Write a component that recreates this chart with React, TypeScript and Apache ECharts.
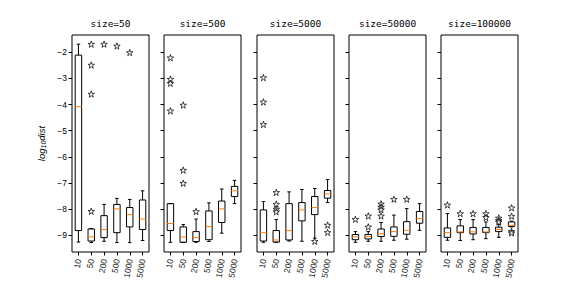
import React, { useEffect, useRef } from "react";
import * as echarts from "echarts";

const categories = ["10", "50", "200", "500", "1000", "5000"];
const sizes = ["50", "500", "5000", "50000", "100000"];
const yTicks = [-9, -8, -7, -6, -5, -4, -3, -2];

// [min, Q1, median, Q3, max] per category, one array per panel
const boxes50 = [
  [-9.26, -8.82, -4.08, -2.11, -1.69],
  [-9.28, -9.22, -9.06, -8.76, -8.74],
  [-9.23, -9.09, -8.78, -8.25, -7.82],
  [-9.28, -8.9, -7.99, -7.82, -7.59],
  [-9.28, -8.68, -8.21, -7.94, -7.63],
  [-9.2, -8.78, -8.38, -7.65, -7.3],
];
const outliers50 = [[], [-8.08, -3.6, -2.49, -1.69], [-1.69], [-1.76], [-2.01], []];

const boxes500 = [
  [-9.27, -8.82, -8.55, -7.79, -7.79],
  [-9.27, -9.27, -9.07, -8.68, -8.59],
  [-9.27, -9.24, -9.09, -8.86, -8.38],
  [-9.24, -9.17, -8.67, -8.07, -7.76],
  [-8.92, -8.51, -7.99, -7.69, -7.23],
  [-7.79, -7.52, -7.3, -7.13, -6.9],
];
const outliers500 = [[-2.21, -3.03, -3.19, -4.24], [-4.02, -6.51, -7.01], [-8.09], [], [], []];

const boxes5000 = [
  [-9.27, -9.22, -8.9, -8.03, -7.71],
  [-9.27, -9.26, -9.18, -8.82, -8.4],
  [-9.22, -9.18, -8.82, -7.79, -7.34],
  [-9.23, -8.45, -8.03, -7.75, -7.25],
  [-9.11, -8.21, -7.94, -7.52, -7.21],
  [-7.75, -7.58, -7.42, -7.29, -6.87],
];
const outliers5000 = [[-2.97, -3.9, -4.76], [-7.36, -7.81, -8.0, -8.1], [], [], [-9.23], [-8.61, -8.89]];

const boxes50000 = [
  [-9.27, -9.17, -9.06, -8.97, -8.86],
  [-9.23, -9.14, -9.05, -8.97, -8.86],
  [-9.23, -9.05, -8.94, -8.76, -8.51],
  [-9.19, -9.04, -8.86, -8.68, -8.23],
  [-9.15, -8.96, -8.81, -8.48, -7.98],
  [-8.81, -8.54, -8.36, -8.09, -7.79],
];
const outliers50000 = [[-8.39], [-8.26, -8.68], [-7.8, -7.92, -8.02, -8.26], [-7.62], [-7.62], []];

const boxes100000 = [
  [-9.19, -9.08, -8.9, -8.72, -8.17],
  [-9.2, -8.9, -8.87, -8.64, -8.4],
  [-9.17, -8.95, -8.87, -8.7, -8.4],
  [-9.13, -8.9, -8.87, -8.7, -8.49],
  [-9.08, -8.86, -8.78, -8.69, -8.59],
  [-8.68, -8.66, -8.62, -8.49, -8.46],
];
const outliers100000 = [[-7.84], [-8.17], [-8.17], [-8.17, -8.32], [-8.34, -8.43, -8.49], [-7.95, -8.27, -8.85, -8.91]];

const allBoxes = [boxes50, boxes500, boxes5000, boxes50000, boxes100000];
const allOutliers = [outliers50, outliers500, outliers5000, outliers50000, outliers100000];

const STAR =
  "path://M50,0 L62,36 L100,36 L69,58 L81,95 L50,72 L19,95 L31,58 L0,36 L38,36 Z";

export default function App() {
  const ref = useRef<HTMLDivElement>(null);
  useEffect(() => {
    if (!ref.current) return;
    const chart = echarts.init(ref.current, null, { renderer: "svg" });
    const lefts = [72, 164, 257, 349, 441];
    const W = 77;
    const top = 35;
    const H = 217;
    const grids: any[] = [];
    const xAxes: any[] = [];
    const yAxes: any[] = [];
    const series: any[] = [];
    const graphics: any[] = [];
    const font = "Liberation Sans";

    sizes.forEach((s, i) => {
      grids.push({
        left: lefts[i],
        top,
        width: W,
        height: H,
        show: true,
        borderColor: "#000",
        borderWidth: 1,
        backgroundColor: "#fff",
      });
      xAxes.push({
        type: "category",
        gridIndex: i,
        data: categories,
        boundaryGap: true,
        axisLine: { show: false },
        axisTick: { show: true, alignWithLabel: true, length: 3.5, lineStyle: { color: "#000" } },
        axisLabel: {
          rotate: 80,
          fontSize: 8.5,
          color: "#222",
          fontFamily: font,
          margin: 7,
          interval: 0,
        },
        splitLine: { show: false },
      });
      yAxes.push({
        type: "value",
        gridIndex: i,
        min: -9.64,
        max: -1.34,
        axisLine: { show: false },
        splitLine: { show: false },
        axisTick: {
          show: true,
          length: 3.5,
          lineStyle: { color: "#000" },
          customValues: yTicks,
        },
        axisLabel: {
          show: i === 0,
          customValues: yTicks,
          fontSize: 8.5,
          color: "#000",
          fontFamily: font,
          margin: 5,
          formatter: (v: number) => String(v).replace("-", "\u2212"),
        },
        ...(i === 0
          ? {
              name: "{a|log}{b|10}{a|dist}",
              nameLocation: "middle",
              nameGap: 25,
              nameRotate: 90,
              nameTextStyle: {
                rich: {
                  a: { fontSize: 9.5, fontStyle: "italic", fontFamily: font, color: "#000" },
                  b: {
                    fontSize: 7,
                    fontStyle: "italic",
                    fontFamily: font,
                    color: "#000",
                    verticalAlign: "bottom",
                    padding: [4, 0, 0, 0],
                  },
                },
              },
            }
          : {}),
      });

      const boxData = allBoxes[i].map((b, k) => [k, ...b]);
      series.push({
        type: "custom",
        xAxisIndex: i,
        yAxisIndex: i,
        data: boxData,
        encode: { x: 0, y: [1, 2, 3, 4, 5] },
        renderItem: (params: any, api: any) => {
          const k = api.value(0);
          const vmin = api.value(1);
          const q1 = api.value(2);
          const med = api.value(3);
          const q3 = api.value(4);
          const vmax = api.value(5);
          const pMin = api.coord([k, vmin]);
          const pQ1 = api.coord([k, q1]);
          const pMed = api.coord([k, med]);
          const pQ3 = api.coord([k, q3]);
          const pMax = api.coord([k, vmax]);
          const band = api.size([1, 0])[0];
          const bw = band * 0.5;
          const cw = bw * 0.55;
          const x = pMed[0];
          const st = { stroke: "#000", lineWidth: 1, fill: null };
          return {
            type: "group",
            children: [
              { type: "line", shape: { x1: x, y1: pMin[1], x2: x, y2: pQ1[1] }, style: st },
              { type: "line", shape: { x1: x, y1: pQ3[1], x2: x, y2: pMax[1] }, style: st },
              { type: "line", shape: { x1: x - cw / 2, y1: pMin[1], x2: x + cw / 2, y2: pMin[1] }, style: st },
              { type: "line", shape: { x1: x - cw / 2, y1: pMax[1], x2: x + cw / 2, y2: pMax[1] }, style: st },
              {
                type: "rect",
                shape: { x: x - bw / 2, y: pQ3[1], width: bw, height: pQ1[1] - pQ3[1] },
                style: { stroke: "#000", lineWidth: 1, fill: "none" },
              },
              {
                type: "line",
                shape: { x1: x - bw / 2, y1: pMed[1], x2: x + bw / 2, y2: pMed[1] },
                style: { stroke: "#ff7f0e", lineWidth: 1 },
              },
            ],
          };
        },
      });

      const outData: number[][] = [];
      allOutliers[i].forEach((arr, k) => arr.forEach((v) => outData.push([k, v])));
      series.push({
        type: "scatter",
        xAxisIndex: i,
        yAxisIndex: i,
        data: outData,
        symbol: STAR,
        symbolSize: 6.5,
        itemStyle: { color: "#fff", borderColor: "#000", borderWidth: 0.9 },
        z: 5,
      });

      graphics.push({
        type: "text",
        x: lefts[i] + W / 2,
        y: 23,
        style: {
          text: "size=" + s,
          fontFamily: "DejaVu Sans Mono",
          fontSize: 9.5,
          fontWeight: "normal",
          fill: "#000",
          align: "center",
          verticalAlign: "middle",
        },
      });
    });

    chart.setOption({
      animation: false,
      backgroundColor: "#fff",
      grid: grids,
      xAxis: xAxes,
      yAxis: yAxes,
      series,
      graphic: graphics,
    });
    return () => chart.dispose();
  }, []);
  return (
    <div
      ref={ref}
      style={{ width: 576, height: 288, position: "fixed", left: 0, top: 0 }}
    />
  );
}
